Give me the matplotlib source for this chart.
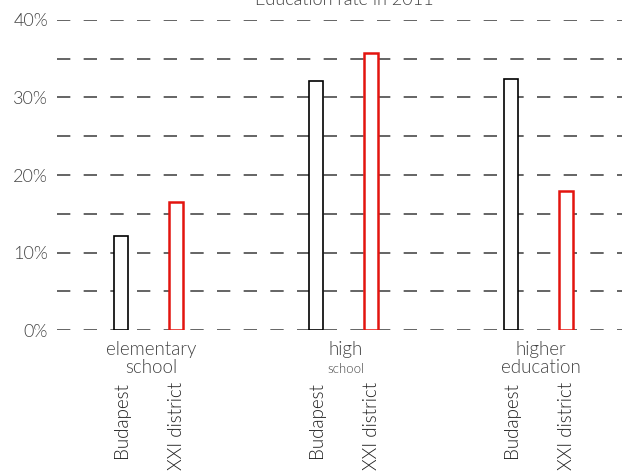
import matplotlib
matplotlib.use("Agg")
import matplotlib.pyplot as plt
from matplotlib.transforms import blended_transform_factory

categories = ["elementary\nschool", "high\nschool", "higher\neducation"]
series_names = ["Budapest", "XXI district"]
budapest = [12.1, 32.1, 32.4]
xxi = [16.5, 35.7, 17.9]
yticks = [0, 10, 20, 30, 40]
ytick_labels = ["0%", "10%", "20%", "30%", "40%"]
title = "Education rate in 2011"

plt.rcParams['font.family'] = ['Lato', 'DejaVu Sans']
FW = 300
TXT = '#444444'

W, H = 622, 473
fig = plt.figure(figsize=(W/100, H/100), dpi=100)
ax = fig.add_axes([57/W, (H-330)/H, (W-57)/W, 310/H])
ax.set_xlim(-0.467, 2.43)
ax.set_ylim(0, 40)

off = 0.141
bw = 0.072
for i in range(3):
    ax.bar(i - off, budapest[i], width=bw, facecolor='white', edgecolor='black', linewidth=1.2, zorder=3)
    ax.bar(i + off, xxi[i], width=bw, facecolor='white', edgecolor='#e3140f', linewidth=1.8, zorder=3)

for y in range(0, 41, 5):
    ax.axhline(y, color='#4a4a4a', linewidth=1.2, dashes=(8, 8), zorder=1)

for s in ax.spines.values():
    s.set_visible(False)
ax.set_yticks(yticks)
ax.set_yticklabels(ytick_labels, fontsize=13, color=TXT, fontweight=FW)
ax.tick_params(axis='y', length=0, pad=6.5)
ax.set_xticks([])

tr = blended_transform_factory(ax.transData, ax.transAxes)
for i, cat in enumerate(categories):
    first, second = cat.split("\n")
    ax.text(i + 0.015, -0.081, first, transform=tr, ha='center', va='baseline', fontsize=13.5,
            color=TXT, fontweight=FW)
    ax.text(i + 0.015, -0.139, second, transform=tr, ha='center', va='baseline',
            fontsize=9.5 if i == 1 else 13.5, color=TXT, fontweight=FW)
    for j, name in enumerate(series_names):
        x = i - off if j == 0 else i + off
        ax.text(x + 0.005, -0.168, name, transform=tr, ha='center', va='top', rotation=90,
                fontsize=13.5, color='#222222', fontweight=FW)

fig.text(344/W, 1 - 5/H, title, ha='center', va='baseline', fontsize=13,
         color=TXT, fontweight=FW)

fig.savefig("out.png", dpi=100)
